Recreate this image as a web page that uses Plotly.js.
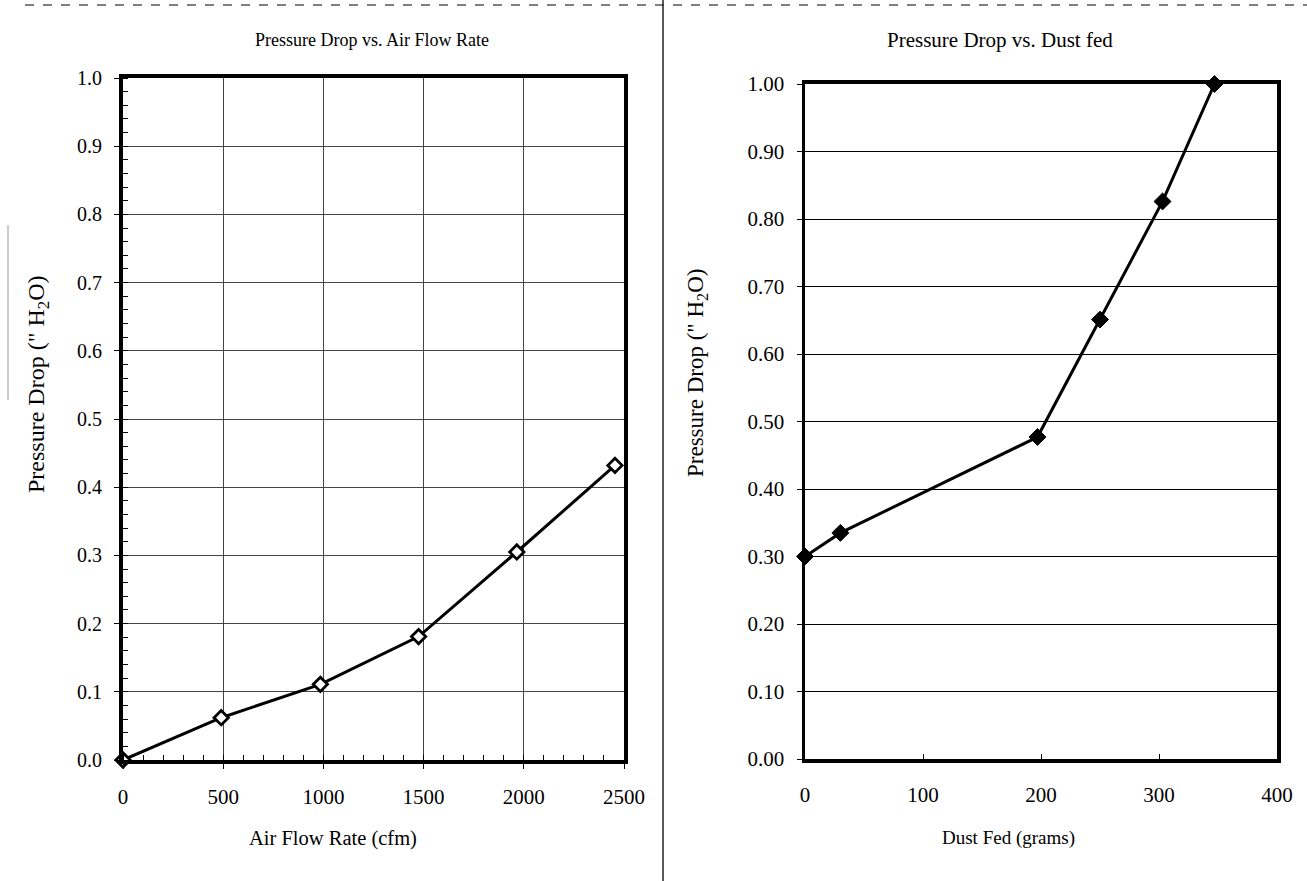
<!DOCTYPE html>
<html>
<head>
<meta charset="utf-8">
<script src="https://cdn.plot.ly/plotly-3.0.1.min.js"></script>
<style>html,body{margin:0;padding:0;background:#fff;}#chart{width:1307px;height:881px;}</style>
</head>
<body>
<div id="chart"></div>
<script>
// Left chart: Pressure Drop vs. Air Flow Rate
const airFlow = [0, 490, 985, 1475, 1965, 2455];
const dropAir = [0.0, 0.062, 0.111, 0.181, 0.305, 0.432];
// Right chart: Pressure Drop vs. Dust fed
const dustFed = [0, 30, 197, 250, 303, 347];
const dropDust = [0.30, 0.335, 0.477, 0.651, 0.826, 1.00];

const leftXTicks = [0, 500, 1000, 1500, 2000, 2500];
const leftYTicks = [0, 0.1, 0.2, 0.3, 0.4, 0.5, 0.6, 0.7, 0.8, 0.9, 1.0];
const leftYLabels = ['0.0','0.1','0.2','0.3','0.4','0.5','0.6','0.7','0.8','0.9','1.0'];
const rightXTicks = [0, 100, 200, 300, 400];
const rightYTicks = [0, 0.1, 0.2, 0.3, 0.4, 0.5, 0.6, 0.7, 0.8, 0.9, 1.0];
const rightYLabels = ['0.00','0.10','0.20','0.30','0.40','0.50','0.60','0.70','0.80','0.90','1.00'];

const titles = ['Pressure Drop vs. Air Flow Rate', 'Pressure Drop vs. Dust fed'];
const xTitles = ['Air Flow Rate (cfm)', 'Dust Fed (grams)'];
const yTitle = 'Pressure Drop (" H<sub>2</sub>O)';

const FONT = 'Liberation Serif, Times New Roman, serif';
const W = 1307, H = 881;
const px = x => x / W;
const py = y => 1 - y / H;

const traces = [
  {
    x: airFlow, y: dropAir, type: 'scatter', mode: 'lines+markers',
    xaxis: 'x', yaxis: 'y',
    line: {color: '#000', width: 3},
    marker: {symbol: 'diamond', size: 11, color: '#fff', line: {color: '#000', width: 2.8}},
    cliponaxis: false, hoverinfo: 'skip'
  },
  {
    x: dustFed, y: dropDust, type: 'scatter', mode: 'lines+markers',
    xaxis: 'x2', yaxis: 'y2',
    line: {color: '#000', width: 3},
    marker: {symbol: 'diamond', size: 13, color: '#000', line: {color: '#000', width: 1}},
    cliponaxis: false, hoverinfo: 'skip'
  }
];

const layout = {
  width: W, height: H,
  margin: {l: 0, r: 0, t: 0, b: 0},
  paper_bgcolor: '#fff', plot_bgcolor: '#fff',
  showlegend: false,
  font: {family: FONT, size: 18, color: '#000'},
  xaxis: {
    domain: [px(123), px(624)], range: [0, 2500], anchor: 'y',
    tickvals: leftXTicks, ticktext: leftXTicks.map(String),
    showgrid: true, gridcolor: '#444', gridwidth: 1,
    showline: true, linecolor: '#000', linewidth: 4, mirror: true,
    ticks: 'outside', ticklen: 5, tickcolor: '#000', tickwidth: 1,
    minor: {dtick: 100, ticks: 'inside', ticklen: 5, tickcolor: '#000', tickwidth: 1, showgrid: false},
    zeroline: false, fixedrange: true,
    tickfont: {family: FONT, size: 21}, ticklabelstandoff: 10
  },
  yaxis: {
    domain: [py(760), py(78)], range: [0, 1], anchor: 'x',
    tickvals: leftYTicks, ticktext: leftYLabels,
    showgrid: true, gridcolor: '#444', gridwidth: 1,
    showline: true, linecolor: '#000', linewidth: 4, mirror: true,
    ticks: 'outside', ticklen: 5, tickcolor: '#000', tickwidth: 1,
    minor: {dtick: 0.02, ticks: 'inside', ticklen: 5, tickcolor: '#000', tickwidth: 1, showgrid: false},
    zeroline: false, fixedrange: true,
    tickfont: {family: FONT, size: 20}, ticklabelstandoff: 8
  },
  xaxis2: {
    domain: [px(805), px(1277)], range: [0, 400], anchor: 'y2',
    tickvals: rightXTicks, ticktext: rightXTicks.map(String),
    showgrid: false,
    showline: true, linecolor: '#000', linewidth: 4, mirror: true,
    ticks: 'inside', ticklen: 5, tickcolor: '#000', tickwidth: 1,
    zeroline: false, fixedrange: true,
    tickfont: {family: FONT, size: 21}, ticklabelstandoff: 14
  },
  yaxis2: {
    domain: [py(759), py(84)], range: [0, 1], anchor: 'x2',
    tickvals: rightYTicks, ticktext: rightYLabels,
    showgrid: true, gridcolor: '#000', gridwidth: 1,
    showline: true, linecolor: '#000', linewidth: 3.5, mirror: true,
    ticks: 'outside', ticklen: 5, tickcolor: '#000', tickwidth: 1,
    zeroline: false, fixedrange: true,
    tickfont: {family: FONT, size: 21}, ticklabelstandoff: 8
  },
  annotations: [
    {text: titles[0], xref: 'paper', yref: 'paper', x: px(372), y: py(40), showarrow: false, xanchor: 'center', yanchor: 'middle', font: {family: FONT, size: 18}},
    {text: titles[1], xref: 'paper', yref: 'paper', x: px(1000), y: py(40), showarrow: false, xanchor: 'center', yanchor: 'middle', font: {family: FONT, size: 21}},
    {text: xTitles[0], xref: 'paper', yref: 'paper', x: px(333), y: py(838), showarrow: false, xanchor: 'center', yanchor: 'middle', font: {family: FONT, size: 20.5}},
    {text: xTitles[1], xref: 'paper', yref: 'paper', x: px(1009), y: py(838), showarrow: false, xanchor: 'center', yanchor: 'middle', font: {family: FONT, size: 19}},
    {text: yTitle, xref: 'paper', yref: 'paper', x: px(38), y: py(385), showarrow: false, textangle: -90, xanchor: 'center', yanchor: 'middle', font: {family: FONT, size: 24}},
    {text: yTitle, xref: 'paper', yref: 'paper', x: px(697), y: py(373), showarrow: false, textangle: -90, xanchor: 'center', yanchor: 'middle', font: {family: FONT, size: 23}}
  ],
  shapes: [
    {type: 'line', xref: 'paper', yref: 'paper', x0: px(25), x1: 1, y0: py(5), y1: py(5), line: {color: '#555', width: 1.5, dash: 'dash'}},
    {type: 'line', xref: 'paper', yref: 'paper', x0: px(663), x1: px(663), y0: 0, y1: 1, line: {color: '#222', width: 1.5}},
    {type: 'line', xref: 'paper', yref: 'paper', x0: px(8), x1: px(8), y0: py(400), y1: py(225), line: {color: '#999', width: 1}}
  ]
};

Plotly.newPlot('chart', traces, layout, {staticPlot: true, displayModeBar: false});
</script>
</body>
</html>
